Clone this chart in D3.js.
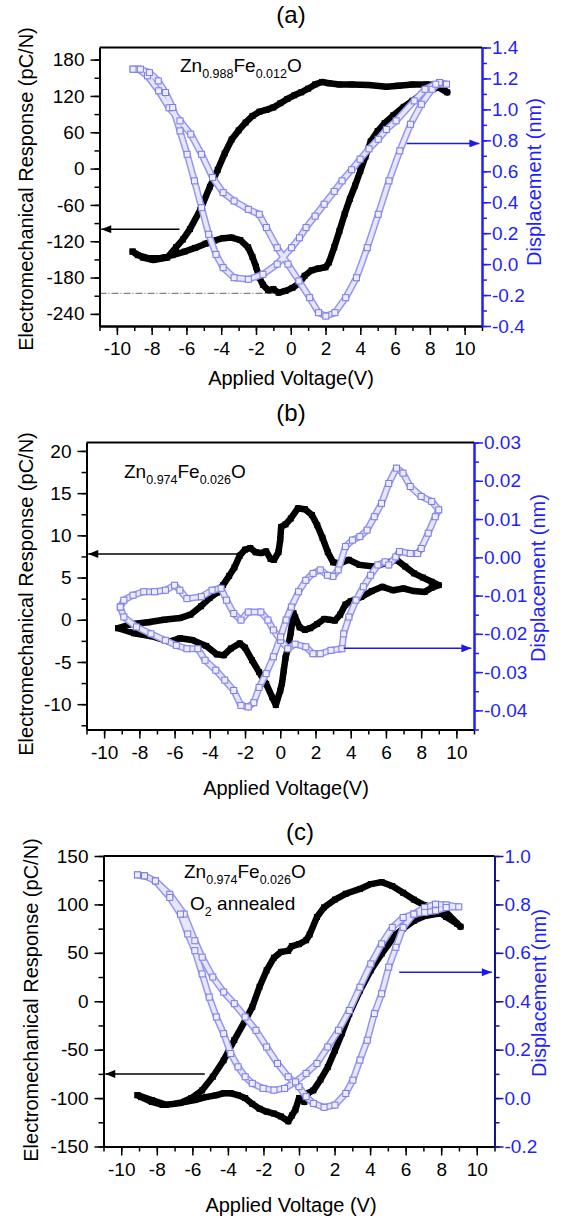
<!DOCTYPE html>
<html>
<head>
<meta charset="utf-8">
<script src="https://cdnjs.cloudflare.com/ajax/libs/d3/7.8.5/d3.min.js"></script>
<style>
  body { margin: 0; background: #fff; }
  svg { display: block; font-family: "Liberation Sans", Arial, sans-serif; }
  .axis text { font-size: 19px; }
</style>
</head>
<body>
<div id="chart"></div>
<script>
// shared voltage ticks
var voltTicks = [-10, -8, -6, -4, -2, 0, 2, 4, 6, 8, 10];

// ---- panel (a) Zn0.988Fe0.012O ----
var respTicksA = [-240, -180, -120, -60, 0, 60, 120, 180];
var dispTicksA = [-0.4, -0.2, 0, 0.2, 0.4, 0.6, 0.8, 1.0, 1.2, 1.4];
// electromechanical response (pC/N) vs voltage, one closed loop
var respA = [
  [-9.1,-137],[-8.5,-147],[-7.9,-151],[-7.1,-147],[-6.6,-130],[-6.2,-117],[-5.8,-100],[-5.2,-68],
  [-4.65,-30],[-4.2,-2],[-3.8,25],[-3.4,48],[-3.0,63],[-2.6,76],[-2.2,87],[-1.8,94],[-1.4,97],
  [-1.0,101],[-0.6,108],[-0.2,115],[0.2,121],[0.6,126],[1.0,132],[1.4,139],[1.8,143],[2.2,141],
  [2.8,139],[3.5,139],[4.5,138],[5.5,135],[6.2,137],[7.0,139],[7.8,139],[8.5,138],[9.0,126],
  [8.5,134],[8.0,130],[7.5,122],[7.0,112],[6.5,102],[5.9,88],[5.4,75],[5.0,62],[4.6,45],[4.3,20],
  [4.0,-4],[3.7,-28],[3.4,-50],[3.1,-75],[2.8,-103],[2.5,-130],[2.2,-155],[2.0,-163],[1.6,-165],
  [1.2,-168],[0.8,-177],[0.5,-189],[0.1,-197],[-0.3,-202],[-0.7,-205],[-1.0,-199],[-1.3,-201],
  [-1.6,-192],[-1.8,-180],[-2.0,-162],[-2.2,-146],[-2.45,-130],[-2.9,-118],[-3.4,-114],[-3.9,-115],
  [-4.4,-119],[-4.9,-124],[-5.5,-131],[-6.1,-137],[-6.8,-143],[-7.5,-148],[-8.2,-148],[-8.8,-143],[-9.1,-137]
];
// displacement (nm) vs voltage
var dispA = [
  [-9.07,1.26],[-8.76,1.26],[-8.24,1.217],[-7.6,1.12],[-7.0,1.01],[-6.37,0.926],[-5.75,0.84],
  [-5.13,0.71],[-4.5,0.56],[-3.89,0.462],[-3.26,0.408],[-2.44,0.354],[-1.81,0.322],[-1.4,0.236],
  [-0.78,0.106],[-0.16,0.0],[0.47,-0.109],[1.09,-0.217],[1.6,-0.314],[2.02,-0.336],[2.54,-0.314],
  [3.16,-0.217],[3.78,-0.088],[4.4,0.106],[5.03,0.322],[5.65,0.538],[6.27,0.732],[6.89,0.904],
  [7.51,1.033],[8.13,1.13],[8.55,1.174],[8.96,1.163],
  [8.34,1.163],[7.72,1.13],[7.1,1.055],[6.06,0.926],[5.5,0.87],[5.03,0.807],[4.5,0.745],[3.99,0.678],
  [3.5,0.61],[2.95,0.538],[2.5,0.47],[1.92,0.387],[1.4,0.31],[0.88,0.236],[0.5,0.17],[0.05,0.106],
  [-0.78,0.0],[-1.6,-0.066],[-2.44,-0.098],[-3.26,-0.088],[-3.89,-0.023],[-4.3,0.063],[-4.72,0.193],
  [-5.13,0.365],[-5.54,0.538],[-5.96,0.71],[-6.37,0.861],[-6.79,1.012],[-7.2,1.109],[-7.62,1.184],
  [-8.13,1.238],[-8.65,1.26],[-9.07,1.26]
];

// ---- panel (b) Zn0.974Fe0.026O ----
var respTicksB = [-10, -5, 0, 5, 10, 15, 20];
var dispTicksB = [-0.04, -0.03, -0.02, -0.01, 0, 0.01, 0.02, 0.03];
var respB = [
  [-9.2,-1.0],[-8.4,-0.5],[-7.5,-0.3],[-6.6,0],[-5.7,0.2],[-5.1,0.6],[-4.5,1.6],[-4.0,2.6],
  [-3.6,3.2],[-3.25,4.1],[-2.9,5.2],[-2.6,6.2],[-2.3,7.6],[-2.0,8.3],[-1.7,8.5],[-1.4,8.0],
  [-1.1,7.9],[-0.8,8.1],[-0.55,7.2],[-0.35,7.1],[-0.1,8.0],[0.0,9.5],[0.05,11.0],[0.3,11.3],
  [0.6,12.0],[1.0,13.2],[1.4,13.1],[1.8,12.4],[2.1,11.2],[2.4,9.7],[2.7,8.0],[3.0,6.8],[3.4,6.7],
  [3.9,7.1],[4.5,6.5],[5.3,6.3],[6.0,6.7],[6.6,7.1],[7.1,6.3],[7.6,5.5],[8.1,5.0],[8.6,4.5],[9.0,4.1],
  [8.6,3.8],[8.2,3.3],[7.6,3.4],[7.0,3.7],[6.4,3.5],[5.8,3.9],[5.2,3.4],[4.6,2.7],[4.0,2.2],
  [3.7,1.8],[3.4,0.6],[3.1,-0.1],[2.8,0.0],[2.5,0.1],[2.1,-0.5],[1.7,-1.0],[1.4,-1.2],[1.1,-0.9],
  [0.85,0.3],[0.75,0.8],[0.6,-1.5],[0.45,-3.2],[0.3,-4.5],[0.2,-6.0],[0.1,-7.5],[0.0,-8.4],
  [-0.25,-10.1],[-0.45,-9.2],[-0.8,-7.6],[-1.2,-6.2],[-1.6,-4.8],[-2.0,-3.3],[-2.3,-2.8],[-2.8,-3.4],
  [-3.2,-4.2],[-3.6,-4.1],[-4.2,-3.1],[-5.0,-2.4],[-5.7,-2.2],[-6.3,-2.6],[-7.3,-1.95],[-8.3,-1.6],[-9.2,-1.0]
];
var dispB = [
  [-9.08,-0.013],[-8.88,-0.0112],[-8.36,-0.0099],[-7.75,-0.009],[-7.14,-0.009],[-6.52,-0.0086],
  [-6.0,-0.0073],[-5.7,-0.0086],[-5.3,-0.0108],[-4.48,-0.0103],[-3.87,-0.0086],[-3.36,-0.0081],
  [-3.05,-0.0112],[-2.64,-0.0147],[-2.23,-0.0164],[-1.82,-0.0143],[-1.1,-0.0143],[-0.7,-0.0164],
  [-0.39,-0.019],[0.02,-0.0217],[0.43,-0.0239],[0.84,-0.0227],[1.45,-0.0234],[1.86,-0.0252],
  [2.27,-0.0252],[2.88,-0.0243],[3.5,-0.0239],[3.6,-0.02],[3.9,-0.0156],[4.3,-0.0112],[4.72,-0.0077],
  [5.13,-0.0047],[5.54,-0.002],[5.95,-0.0012],[6.16,-0.002],[6.56,0.0001],[6.77,0.0015],[7.38,0.001],
  [7.8,0.001],[8.0,0.0023],[8.4,0.0063],[8.8,0.0106],[9.0,0.0124],
  [8.6,0.0146],[8.0,0.0159],[7.38,0.0185],[6.97,0.022],[6.6,0.0233],[6.16,0.0193],[5.75,0.0141],
  [5.34,0.0106],[4.93,0.0071],[4.52,0.0054],[4.1,0.0045],[3.7,0.0028],[3.29,-0.0033],[2.99,-0.005],
  [2.68,-0.0047],[2.27,-0.0033],[1.86,-0.0042],[1.45,-0.006],[1.04,-0.009],[0.63,-0.013],
  [0.33,-0.0164],[0.02,-0.0208],[-0.39,-0.026],[-0.8,-0.0304],[-1.2,-0.034],[-1.5,-0.038],
  [-1.82,-0.0391],[-2.23,-0.0387],[-2.64,-0.0348],[-3.15,-0.0321],[-3.66,-0.0295],[-4.27,-0.0269],
  [-4.68,-0.0239],[-5.3,-0.0239],[-5.9,-0.023],[-6.52,-0.0217],[-7.34,-0.02],[-8.16,-0.0182],
  [-8.88,-0.0156],[-9.08,-0.013]
];

// ---- panel (c) Zn0.974Fe0.026O, O2 annealed ----
var respTicksC = [-150, -100, -50, 0, 50, 100, 150];
var dispTicksC = [-0.2, 0, 0.2, 0.4, 0.6, 0.8, 1.0];
var respC = [
  [-9.09,-97],[-8.28,-102],[-7.47,-107],[-6.67,-105],[-6.06,-100],[-5.45,-92],[-4.85,-78],[-4.24,-61],
  [-3.64,-40],[-3.03,-20],[-2.63,-6],[-2.22,15],[-1.82,32],[-1.41,45],[-1.01,51],[-0.61,52],[-0.4,57],
  [0.0,59],[0.4,63],[0.6,69],[1.01,87],[1.41,97],[2.02,105],[2.63,111],[3.43,116],[4.04,121],
  [4.65,123],[5.25,119],[5.86,112],[6.46,105],[7.07,99],[7.68,95],[8.28,87],[8.89,80],[9.09,77],
  [8.28,92],[7.68,90],[7.07,88],[6.46,83],[5.86,75],[5.45,69],[4.65,49],[4.04,32],[3.43,11],
  [2.83,-13],[2.42,-33],[2.02,-51],[1.62,-68],[1.21,-81],[0.81,-92],[0.5,-95],[0.3,-104],[0.0,-100],
  [-0.2,-112],[-0.4,-118],[-0.6,-124],[-1.01,-119],[-1.41,-116],[-1.82,-114],[-2.22,-111],[-2.63,-106],
  [-3.03,-100],[-3.43,-97],[-3.84,-95],[-4.24,-95],[-4.65,-97],[-5.25,-99],[-5.86,-102],[-6.46,-104],
  [-7.07,-106],[-7.68,-107],[-8.28,-104],[-8.89,-99],[-9.09,-97]
];
var dispC = [
  [-9.09,0.922],[-8.69,0.918],[-8.08,0.897],[-7.27,0.842],[-6.46,0.76],[-5.86,0.65],[-5.45,0.582],
  [-4.85,0.5],[-4.24,0.438],[-3.64,0.39],[-3.03,0.335],[-2.42,0.28],[-1.82,0.211],[-1.21,0.143],
  [-0.61,0.088],[0,0.047],[0.4,0.006],[0.81,-0.022],[1.41,-0.038],[2.02,-0.029],[2.63,0.019],
  [3.03,0.074],[3.43,0.157],[3.84,0.239],[4.24,0.349],[4.65,0.431],[5.05,0.541],[5.45,0.623],
  [5.86,0.705],[6.46,0.76],[7.07,0.787],[7.68,0.801],[8.28,0.798],[8.99,0.79],
  [8.28,0.787],[7.68,0.774],[7.07,0.767],[6.46,0.76],[5.86,0.746],[5.25,0.705],[4.65,0.637],
  [4.04,0.554],[3.43,0.458],[2.83,0.362],[2.22,0.28],[1.62,0.211],[1.01,0.143],[0.4,0.102],
  [-0.2,0.067],[-0.81,0.04],[-1.41,0.033],[-2.02,0.04],[-2.63,0.061],[-3.03,0.088],[-3.43,0.129],
  [-3.84,0.184],[-4.24,0.266],[-4.65,0.335],[-5.05,0.417],[-5.45,0.513],[-5.86,0.609],[-6.26,0.678],
  [-6.67,0.76],[-7.27,0.829],[-8.08,0.897],[-8.69,0.918],[-9.09,0.922]
];

var loc = d3.formatLocale({decimal: '.', thousands: ',', grouping: [3], currency: ['', ''], minus: '-'});
var blue = '#1f1fff';

var panels = [
  {
    left: 99.5, right: 482, top: 47.5, bottom: 326,
    yDom: [-260, 200], y2Dom: [-0.4, 1.4],
    yTicks: respTicksA, yMinor: d3.range(-240, 200, 30),
    y2Ticks: dispTicksA, y2Minor: d3.range(-4, 15).map(function(i) { return i / 10; }),
    y2Fmt: loc.format('.1f'), y2Line: blue,
    resp: respA, disp: dispA,
    title: '(a)', titleX: 291, titleY: 23,
    xTitle: 'Applied Voltage(V)', xTitleX: 291, xTitleY: 385,
    yTitleX: 33, yTitleY: 189, y2TitleX: 541, y2TitleY: 182,
    label: [['Zn', '0.988', 'Fe', '0.012', 'O']], labelAt: [[-6.37, 160]],
    arrowK: [-6.4, -100], arrowB: [6.67, 0.78],
    guide: [-0.8, -206]
  },
  {
    left: 86.5, right: 474, top: 442.5, bottom: 729.5,
    yDom: [-13, 21], y2Dom: [-0.045, 0.03],
    yTicks: respTicksB, yMinor: d3.range(-12.5, 21, 2.5),
    y2Ticks: dispTicksB, y2Minor: d3.range(-9, 7).map(function(i) { return i * 0.005; }),
    y2Fmt: loc.format('.2f'), y2Line: blue,
    resp: respB, disp: dispB,
    title: '(b)', titleX: 291, titleY: 421,
    xTitle: 'Applied Voltage(V)', xTitleX: 286, xTitleY: 795,
    yTitleX: 33, yTitleY: 594, y2TitleX: 545, y2TitleY: 578,
    label: [['Zn', '0.974', 'Fe', '0.026', 'O']], labelAt: [[-8.87, 16.8]],
    arrowK: [-2.3, 7.8], arrowB: [3.6, -0.0238],
    guide: null
  },
  {
    left: 103.5, right: 494.5, top: 856, bottom: 1146.5,
    yDom: [-150, 150], y2Dom: [-0.2, 1.0],
    yTicks: respTicksC, yMinor: d3.range(-150, 151, 25),
    y2Ticks: dispTicksC, y2Minor: d3.range(-2, 11).map(function(i) { return i / 10; }),
    y2Fmt: loc.format('.1f'), y2Line: '#14148c',
    resp: respC, disp: dispC,
    title: '(c)', titleX: 300, titleY: 840,
    xTitle: 'Applied Voltage (V)', xTitleX: 291, xTitleY: 1212,
    yTitleX: 38, yTitleY: 1000, y2TitleX: 546, y2TitleY: 993,
    label: [['Zn', '0.974', 'Fe', '0.026', 'O'], ['O', '2', ' annealed']],
    labelAt: [[-6.47, 127], [-6.13, 94]],
    arrowK: [-5.3, -75], arrowB: [5.64, 0.52],
    guide: null
  }
];

var svg = d3.select('#chart').append('svg')
  .attr('width', 564)
  .attr('height', 1218);

var defs = svg.append('defs');
[['headK', '#000'], ['headB', '#1a1af0']].forEach(function(m) {
  defs.append('marker')
    .attr('id', m[0])
    .attr('viewBox', '0 0 10 8')
    .attr('refX', 10).attr('refY', 4)
    .attr('markerWidth', 11).attr('markerHeight', 8)
    .attr('markerUnits', 'userSpaceOnUse')
    .attr('orient', 'auto')
    .append('path')
    .attr('d', 'M0,0L10,4L0,8Z')
    .attr('fill', m[1]);
});

panels.forEach(drawPanel);

function drawPanel(p) {
  var x = d3.scaleLinear().domain([-11, 11]).range([p.left, p.right]);
  var y = d3.scaleLinear().domain(p.yDom).range([p.bottom, p.top]);
  var y2 = d3.scaleLinear().domain(p.y2Dom).range([p.bottom, p.top]);
  var g = svg.append('g');

  // guide line (a only)
  if (p.guide) {
    g.append('line')
      .attr('x1', x(-11)).attr('x2', x(p.guide[0]))
      .attr('y1', y(p.guide[1])).attr('y2', y(p.guide[1]))
      .attr('stroke', '#666').attr('stroke-width', 1)
      .attr('stroke-dasharray', '7,2,1,2');
  }

  // response: dense filled black squares
  var lineR = d3.line().x(function(d) { return x(d[0]); }).y(function(d) { return y(d[1]); });
  g.append('path').datum(p.resp)
    .attr('d', lineR)
    .attr('fill', 'none').attr('stroke', '#000')
    .attr('stroke-width', 6.5).attr('stroke-linejoin', 'round');
  g.selectAll('.sq').data(p.resp).enter().append('rect')
    .attr('x', function(d) { return x(d[0]) - 3; })
    .attr('y', function(d) { return y(d[1]) - 3; })
    .attr('width', 6).attr('height', 6)
    .attr('fill', '#000');

  // displacement: open light-blue squares
  var lineD = d3.line().x(function(d) { return x(d[0]); }).y(function(d) { return y2(d[1]); });
  g.append('path').datum(p.disp)
    .attr('d', lineD)
    .attr('fill', 'none').attr('stroke', '#9696f0')
    .attr('stroke-width', 7).attr('stroke-linejoin', 'round');
  g.append('path').datum(p.disp)
    .attr('d', lineD)
    .attr('fill', 'none').attr('stroke', '#e6e6fc')
    .attr('stroke-width', 4).attr('stroke-linejoin', 'round');
  g.selectAll('.osq').data(p.disp).enter().append('rect')
    .attr('x', function(d) { return x(d[0]) - 3; })
    .attr('y', function(d) { return y2(d[1]) - 3; })
    .attr('width', 6).attr('height', 6)
    .attr('fill', '#eeeefe').attr('stroke', '#7a7ae6').attr('stroke-width', 1);

  // arrows
  g.append('line')
    .attr('x1', x(p.arrowK[0])).attr('x2', x(-10.9))
    .attr('y1', y(p.arrowK[1])).attr('y2', y(p.arrowK[1]))
    .attr('stroke', '#000').attr('stroke-width', 1.5)
    .attr('marker-end', 'url(#headK)');
  g.append('line')
    .attr('x1', x(p.arrowB[0])).attr('x2', x(10.85))
    .attr('y1', y2(p.arrowB[1])).attr('y2', y2(p.arrowB[1]))
    .attr('stroke', '#1a1af0').attr('stroke-width', 1.5)
    .attr('marker-end', 'url(#headB)');

  // composition labels
  p.label.forEach(function(parts, i) {
    var t = g.append('text')
      .attr('x', x(p.labelAt[i][0]))
      .attr('y', y(p.labelAt[i][1]))
      .attr('font-size', 19);
    parts.forEach(function(s, j) {
      var sub = /^[0-9.]+$/.test(s);
      var prevSub = j > 0 && /^[0-9.]+$/.test(parts[j - 1]);
      var ts = t.append('tspan').text(s);
      if (sub) ts.attr('font-size', 12.5).attr('dy', 6);
      else if (prevSub) ts.attr('dy', -6);
    });
  });

  // axes: minor ticks first, then majors
  var fmtInt = loc.format('d');
  g.append('g').attr('class', 'axis')
    .attr('transform', 'translate(0,' + p.bottom + ')')
    .call(d3.axisBottom(x).tickValues(d3.range(-11, 12)).tickSize(5).tickSizeOuter(0).tickFormat(''));
  g.append('g').attr('class', 'axis')
    .attr('transform', 'translate(0,' + p.bottom + ')')
    .call(d3.axisBottom(x).tickValues(voltTicks).tickSize(9).tickSizeOuter(0).tickPadding(7).tickFormat(fmtInt));

  g.append('g').attr('class', 'axis')
    .attr('transform', 'translate(' + p.left + ',0)')
    .call(d3.axisLeft(y).tickValues(p.yMinor).tickSize(5).tickSizeOuter(0).tickFormat(''));
  g.append('g').attr('class', 'axis')
    .attr('transform', 'translate(' + p.left + ',0)')
    .call(d3.axisLeft(y).tickValues(p.yTicks).tickSize(9).tickSizeOuter(0).tickPadding(6).tickFormat(fmtInt));

  var r1 = g.append('g').attr('class', 'axis right')
    .attr('transform', 'translate(' + p.right + ',0)')
    .call(d3.axisRight(y2).tickValues(p.y2Minor).tickSize(5).tickSizeOuter(0).tickFormat(''));
  var r2 = g.append('g').attr('class', 'axis right')
    .attr('transform', 'translate(' + p.right + ',0)')
    .call(d3.axisRight(y2).tickValues(p.y2Ticks).tickSize(9).tickSizeOuter(0).tickPadding(1).tickFormat(p.y2Fmt));
  [r1, r2].forEach(function(a) {
    a.selectAll('path,line').attr('stroke', p.y2Line);
    a.selectAll('text').attr('fill', blue);
  });

  g.selectAll('.axis path.domain').attr('stroke-width', 2);
  g.selectAll('.axis line').attr('stroke-width', 1.5);

  // top frame
  g.append('line')
    .attr('x1', p.left).attr('x2', p.right)
    .attr('y1', p.top).attr('y2', p.top)
    .attr('stroke', '#000').attr('stroke-width', 2);

  // titles
  g.append('text')
    .attr('x', p.titleX).attr('y', p.titleY)
    .attr('text-anchor', 'middle').attr('font-size', 24)
    .text(p.title);
  g.append('text')
    .attr('x', p.xTitleX).attr('y', p.xTitleY)
    .attr('text-anchor', 'middle').attr('font-size', 20)
    .text(p.xTitle);
  g.append('text')
    .attr('transform', 'translate(' + p.yTitleX + ',' + p.yTitleY + ') rotate(-90)')
    .attr('text-anchor', 'middle').attr('font-size', 20)
    .text('Electromechanical Response (pC/N)');
  g.append('text')
    .attr('transform', 'translate(' + p.y2TitleX + ',' + p.y2TitleY + ') rotate(-90)')
    .attr('text-anchor', 'middle').attr('font-size', 20)
    .attr('fill', blue)
    .text('Displacement (nm)');
}
</script>
</body>
</html>
